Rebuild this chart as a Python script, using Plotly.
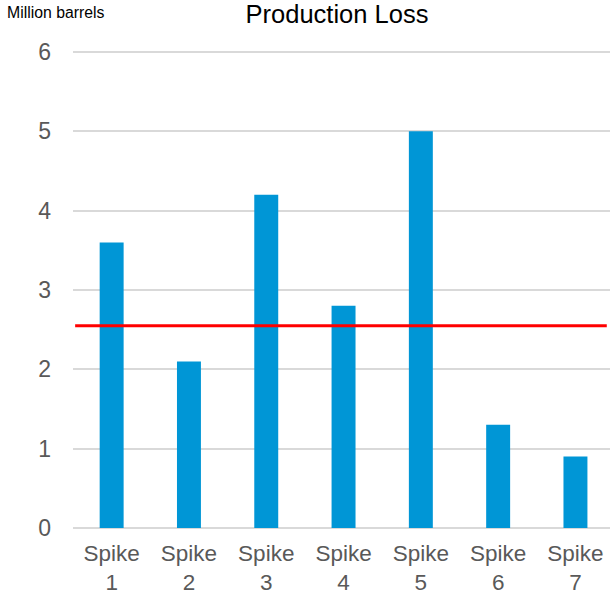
import plotly.graph_objects as go

# Production loss per price spike (million barrels)
categories = ["Spike<br>1", "Spike<br>2", "Spike<br>3", "Spike<br>4", "Spike<br>5", "Spike<br>6", "Spike<br>7"]
loss = [3.6, 2.1, 4.2, 2.8, 5.0, 1.3, 0.9]
reference_level = 2.55
y_ticks = [0, 1, 2, 3, 4, 5, 6]

FONT = "Liberation Sans, Arial, sans-serif"
GRID = "#d9d9d9"
TICK = "#595959"

fig = go.Figure()
fig.add_trace(go.Bar(
    x=list(range(len(categories))),
    y=loss,
    marker=dict(color="#0096D6", line=dict(width=0)),
    hoverinfo="x+y",
))

# Horizontal reference line across the plot
fig.add_shape(
    type="line", xref="paper", yref="y",
    x0=0.004, x1=0.994, y0=reference_level, y1=reference_level,
    line=dict(color="#FF0000", width=3),
)

fig.add_annotation(
    text="Million barrels", xref="paper", yref="paper",
    x=-0.1265, y=1.078, xanchor="left", yanchor="middle",
    showarrow=False, font=dict(family=FONT, size=15.8, color="#000000"),
)

fig.update_layout(
    width=610, height=594,
    margin=dict(l=73, r=0, t=50, b=66),
    paper_bgcolor="white", plot_bgcolor="white",
    bargap=0.69,
    showlegend=False,
    title=dict(text="Production Loss", x=337 / 610, xref="container", xanchor="center",
               y=1 - 14 / 594, yref="container", yanchor="middle",
               font=dict(family=FONT, size=25.5, color="#000000")),
    font=dict(family=FONT),
)

fig.update_xaxes(
    range=[-0.5, 6.447],
    tickmode="array", tickvals=list(range(len(categories))), ticktext=categories,
    tickfont=dict(family=FONT, size=22.5, color=TICK),
    showgrid=False, zeroline=False, showline=False, ticks="",
    ticklabelstandoff=9,
)
fig.update_yaxes(
    range=[0, 6.025], tickvals=y_ticks,
    tickfont=dict(family=FONT, size=23, color=TICK),
    showgrid=True, gridcolor=GRID, gridwidth=1.5,
    zeroline=True, zerolinecolor=GRID, zerolinewidth=2,
    showline=False, ticks="", ticklabelstandoff=21,
)

fig.write_html("out.html")
